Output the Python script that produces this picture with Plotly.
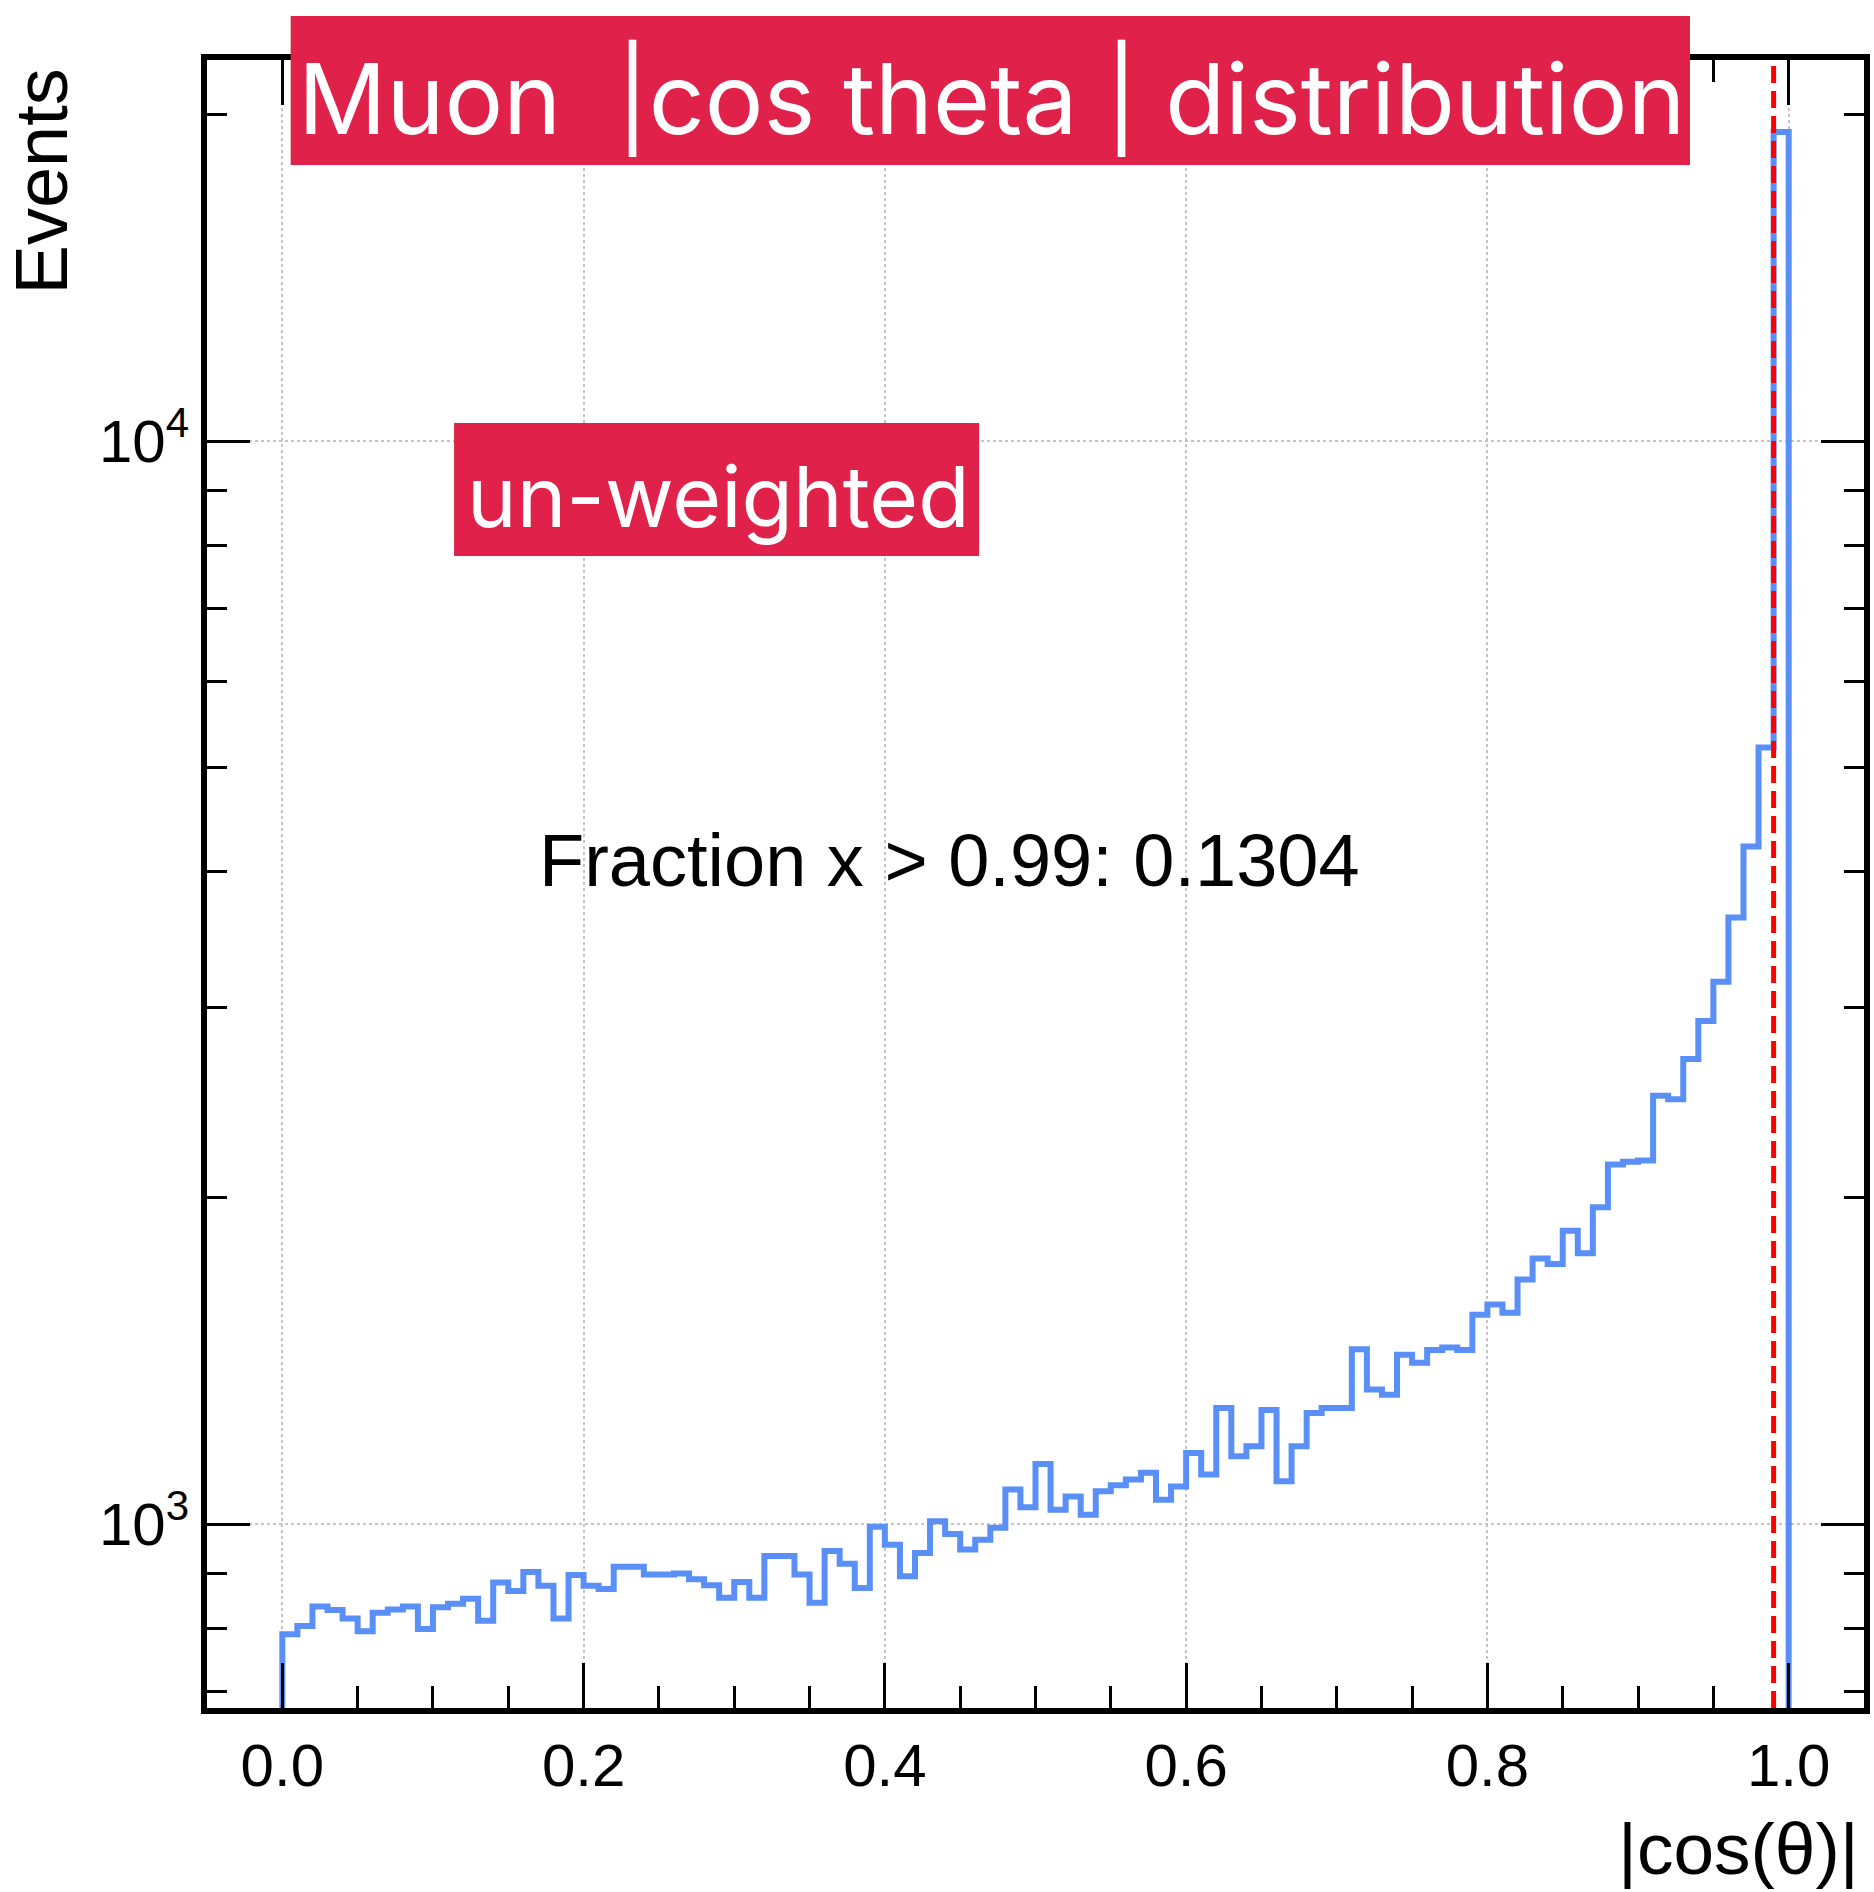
import numpy as np
import plotly.graph_objects as go

# Muon |cos(theta)| histogram: 100 equal bins between 0 and 1
bin_lo = 0.0
bin_hi = 1.0
counts = [791, 805, 839, 833, 818, 796, 828, 834, 839, 800,
          838, 844, 853, 814, 883, 867, 903, 877, 818, 897,
          877, 871, 913, 913, 898, 898, 900, 889, 878, 855,
          884, 855, 934, 934, 898, 846, 944, 919, 873, 994,
          957, 895, 940, 1006, 979, 947, 967, 992, 1076, 1036,
          1136, 1031, 1060, 1020, 1072, 1086, 1099, 1115, 1053, 1083,
          1163, 1111, 1280, 1155, 1180, 1274, 1095, 1180, 1266, 1280,
          1280, 1450, 1331, 1316, 1433, 1409, 1448, 1455, 1448, 1560,
          1595, 1567, 1682, 1759, 1738, 1865, 1778, 1961, 2148, 2160,
          2166, 2486, 2467, 2687, 2914, 3167, 3630, 4223, 5213, 19290]
cut_value = 0.99

x_tick_vals = [0.0, 0.2, 0.4, 0.6, 0.8, 1.0]
x_tick_text = ["0.0", "0.2", "0.4", "0.6", "0.8", "1.0"]
x_minor_vals = [0.05, 0.1, 0.15, 0.25, 0.3, 0.35, 0.45, 0.5, 0.55,
                0.65, 0.7, 0.75, 0.85, 0.9, 0.95]
y_tick_vals = [1e3, 1e4]
y_tick_text = ["10<sup>3</sup>", "10<sup>4</sup>"]
y_minor_vals = [700, 800, 900, 2000, 3000, 4000, 5000, 6000, 7000,
                8000, 9000, 20000]

title_text = "Muon \u00a0|cos theta | distribution"
tag_text = "un-weighted"
x_title = "|cos(θ)|"
y_title = "Events"

BLUE = "#5a8ff7"
CRIMSON = "#e0214a"
AXIS_FONT = "Liberation Sans, Arial, Helvetica, sans-serif"
BOX_FONT = "Inter, Roboto, sans-serif"

# Bin edges and the fraction of events above the cut
edges = np.linspace(bin_lo, bin_hi, len(counts) + 1)
counts_arr = np.array(counts, dtype=float)
above = edges[:-1] >= cut_value - 1e-9
fraction = counts_arr[above].sum() / counts_arr.sum()
fraction_text = f"Fraction x > {cut_value:.2f}: {fraction:.4f}"

# Step outline (ROOT style): start and finish below the visible range
floor = 1.0
step_x = [edges[0]] + list(edges[:-1]) + [edges[-1], edges[-1]]
step_y = [floor] + counts + [counts[-1], floor]

fig = go.Figure()
fig.add_trace(go.Scatter(
    x=step_x, y=step_y, mode="lines",
    line=dict(color=BLUE, width=6, shape="hv"),
    hoverinfo="skip", showlegend=False,
))

# Vertical cut marker
fig.add_shape(type="line", xref="x", yref="paper",
              x0=cut_value, x1=cut_value, y0=0, y1=1,
              line=dict(color="#ff0000", width=5, dash="17px,8px"),
              layer="above")

# Red label boxes
fig.add_shape(type="rect", xref="paper", yref="paper",
              x0=0.0505, x1=0.8950, y0=0.9363, y1=1.0267,
              fillcolor=CRIMSON, line=dict(width=0), layer="above")
fig.add_shape(type="rect", xref="paper", yref="paper",
              x0=0.1491, x1=0.4660, y0=0.6990, y1=0.7797,
              fillcolor=CRIMSON, line=dict(width=0), layer="above")

fig.add_annotation(text=title_text, xref="paper", yref="paper",
                   x=0.4735, y=0.9766, xanchor="center", yanchor="middle",
                   showarrow=False,
                   font=dict(family=BOX_FONT, size=98, color="white"))
fig.add_annotation(text=tag_text, xref="paper", yref="paper",
                   x=0.3085, y=0.7354, xanchor="center", yanchor="middle",
                   showarrow=False,
                   font=dict(family=BOX_FONT, size=84, color="white"))
fig.add_annotation(text=fraction_text, xref="paper", yref="paper",
                   x=0.1990, y=0.5140, xanchor="left", yanchor="middle",
                   showarrow=False,
                   font=dict(family=AXIS_FONT, size=74, color="black"))

# Axis titles (ROOT places them at the far end of each axis)
fig.add_annotation(text=y_title, xref="paper", yref="paper",
                   x=-0.0999, y=0.9266, xanchor="center", yanchor="middle",
                   textangle=-90, showarrow=False,
                   font=dict(family=AXIS_FONT, size=74, color="black"))
fig.add_annotation(text=x_title, xref="paper", yref="paper",
                   x=0.9980, y=-0.0855, xanchor="right", yanchor="middle",
                   showarrow=False,
                   font=dict(family=AXIS_FONT, size=73, color="black"))

axis_common = dict(
    ticks="inside", tickwidth=2.5, tickcolor="black",
    showline=True, linewidth=6, linecolor="black", mirror="allticks",
    showgrid=True, gridcolor="#c4c4c4", griddash="dot", gridwidth=2,
    zeroline=False, tickfont=dict(family=AXIS_FONT, size=60, color="black"),
)

fig.update_xaxes(
    range=[-0.05, 1.05], tickmode="array",
    tickvals=x_tick_vals, ticktext=x_tick_text, ticklen=45,
    minor=dict(tickmode="array", tickvals=x_minor_vals, ticks="inside",
               ticklen=22, tickwidth=2.5, tickcolor="black", showgrid=False),
    **axis_common,
)
fig.update_yaxes(
    type="log", range=[2.8301, 4.3518], tickmode="array",
    tickvals=y_tick_vals, ticktext=y_tick_text, ticklen=43,
    minor=dict(tickmode="array", tickvals=y_minor_vals, ticks="inside",
               ticklen=20, tickwidth=2.5, tickcolor="black", showgrid=False),
    **axis_common,
)

fig.update_layout(
    width=1874, height=1892,
    margin=dict(l=207, r=4, t=60, b=184),
    paper_bgcolor="white", plot_bgcolor="white",
    showlegend=False,
    font=dict(family=AXIS_FONT, color="black"),
)

fig.write_html("out.html")
